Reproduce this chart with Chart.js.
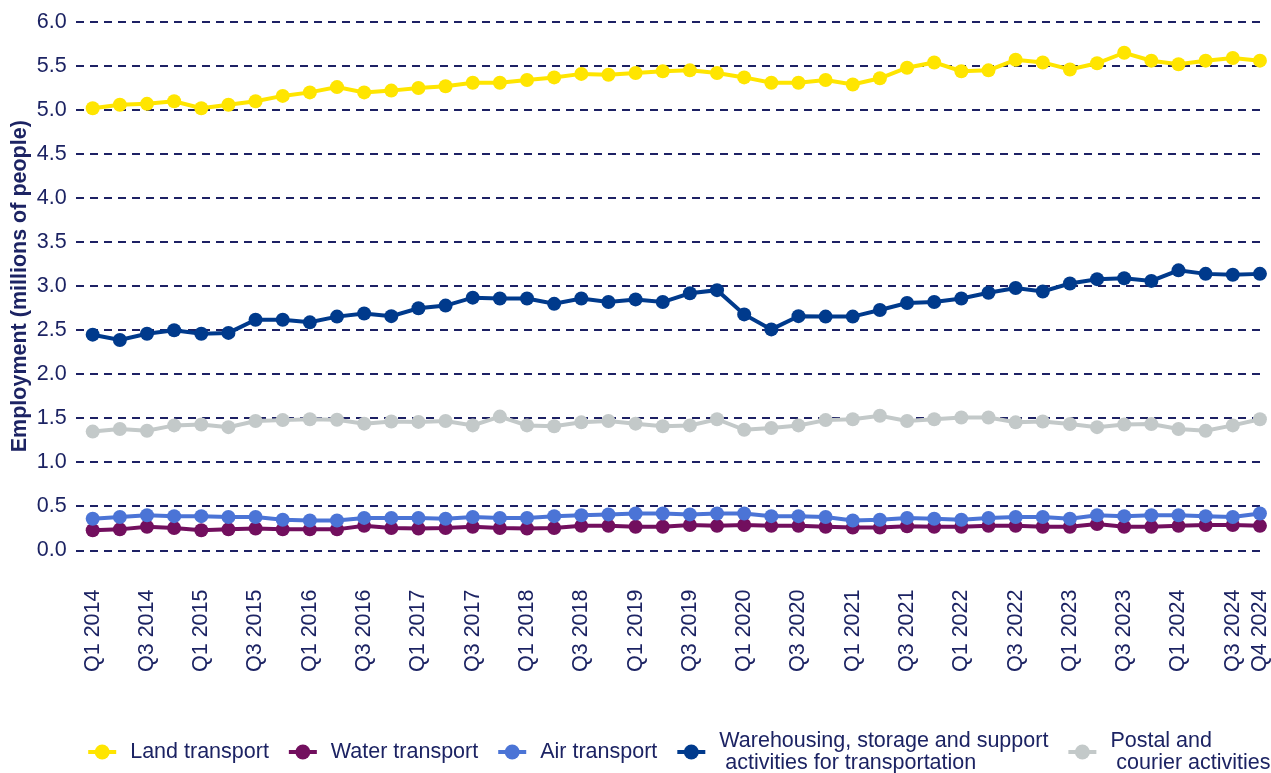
<!DOCTYPE html>
<html>
<head>
<meta charset="utf-8">
<script src="https://cdn.jsdelivr.net/npm/chart.js@4.4.1/dist/chart.umd.min.js"></script>
<style>
  html, body { margin: 0; padding: 0; background: #ffffff; }
  #wrap { width: 1271px; height: 773px; position: relative; }
</style>
</head>
<body>
<div id="wrap"><canvas id="chart" width="1271" height="773"></canvas></div>
<script>
const quarters = [
  'Q1 2014','Q2 2014','Q3 2014','Q4 2014',
  'Q1 2015','Q2 2015','Q3 2015','Q4 2015',
  'Q1 2016','Q2 2016','Q3 2016','Q4 2016',
  'Q1 2017','Q2 2017','Q3 2017','Q4 2017',
  'Q1 2018','Q2 2018','Q3 2018','Q4 2018',
  'Q1 2019','Q2 2019','Q3 2019','Q4 2019',
  'Q1 2020','Q2 2020','Q3 2020','Q4 2020',
  'Q1 2021','Q2 2021','Q3 2021','Q4 2021',
  'Q1 2022','Q2 2022','Q3 2022','Q4 2022',
  'Q1 2023','Q2 2023','Q3 2023','Q4 2023',
  'Q1 2024','Q2 2024','Q3 2024','Q4 2024'
];

const landTransport = [
  5.02, 5.06, 5.07, 5.10, 5.02, 5.06, 5.10, 5.16, 5.20, 5.26, 5.20,
  5.22, 5.25, 5.27, 5.31, 5.31, 5.34, 5.37, 5.41, 5.40, 5.42, 5.44,
  5.45, 5.42, 5.37, 5.31, 5.31, 5.34, 5.29, 5.36, 5.48, 5.54, 5.44,
  5.45, 5.57, 5.54, 5.46, 5.53, 5.65, 5.56, 5.52, 5.56, 5.59, 5.56
];
const waterTransport = [
  0.23, 0.24, 0.27, 0.255, 0.23, 0.24, 0.25, 0.24, 0.24, 0.24, 0.28,
  0.255, 0.25, 0.255, 0.27, 0.255, 0.25, 0.255, 0.28, 0.28, 0.27, 0.27,
  0.29, 0.28, 0.29, 0.28, 0.28, 0.27, 0.26, 0.26, 0.275, 0.27, 0.27,
  0.28, 0.28, 0.27, 0.27, 0.30, 0.27, 0.27, 0.28, 0.29, 0.29, 0.28
];
const airTransport = [
  0.36, 0.38, 0.40, 0.39, 0.39, 0.38, 0.38, 0.35, 0.34, 0.34, 0.37,
  0.37, 0.37, 0.36, 0.38, 0.37, 0.37, 0.39, 0.40, 0.41, 0.42, 0.42,
  0.41, 0.42, 0.42, 0.39, 0.39, 0.38, 0.34, 0.35, 0.37, 0.36, 0.35,
  0.37, 0.38, 0.38, 0.36, 0.40, 0.39, 0.40, 0.40, 0.39, 0.38, 0.42
];
const warehousing = [
  2.45, 2.39, 2.46, 2.50, 2.46, 2.47, 2.62, 2.62, 2.59, 2.655, 2.69,
  2.66, 2.75, 2.78, 2.87, 2.86, 2.86, 2.80, 2.86, 2.82, 2.85, 2.82,
  2.92, 2.955, 2.68, 2.51, 2.66, 2.655, 2.655, 2.73, 2.81, 2.82, 2.86,
  2.925, 2.98, 2.94, 3.03, 3.08, 3.09, 3.06, 3.18, 3.14, 3.13, 3.14
];
const postalCourier = [
  1.35, 1.38, 1.36, 1.42, 1.43, 1.40, 1.47, 1.48, 1.49, 1.485, 1.44,
  1.465, 1.46, 1.47, 1.42, 1.52, 1.42, 1.41, 1.455, 1.47, 1.44, 1.41,
  1.42, 1.49, 1.37, 1.39, 1.42, 1.48, 1.49, 1.53, 1.47, 1.49, 1.51,
  1.51, 1.455, 1.465, 1.435, 1.40, 1.43, 1.435, 1.38, 1.36, 1.42, 1.49
];

const seriesNames = [
  'Land transport',
  'Water transport',
  'Air transport',
  'Warehousing, storage and support\n activities for transportation',
  'Postal and\n courier activities'
];
const yTicks = [0, 0.5, 1, 1.5, 2, 2.5, 3, 3.5, 4, 4.5, 5, 5.5, 6];
const yTitle = 'Employment (millions of people)';

const TEXT = '#1c2363';
const FONT = '"Liberation Sans", Arial, Helvetica, sans-serif';

function toPoints(arr) { return arr.map((v, i) => ({ x: i, y: v })); }

function ds(label, values, color, order) {
  return {
    label: label,
    data: toPoints(values),
    borderColor: color,
    backgroundColor: color,
    pointBackgroundColor: color,
    pointBorderColor: color,
    pointBorderWidth: 0,
    pointRadius: 7,
    pointHoverRadius: 7,
    borderWidth: 4,
    tension: 0,
    clip: false,
    order: order
  };
}

const bottomLegend = {
  id: 'bottomLegend',
  afterDraw(chart) {
    const ctx = chart.ctx;
    const items = chart.data.datasets.map(d => ({ lines: d.label.split('\n'), color: d.borderColor }));
    ctx.save();
    ctx.font = '21.5px ' + FONT;
    const markerW = 28, gapAfter = 14, gapBetween = 20, lh = 22;
    const widths = items.map(it => Math.max(...it.lines.map(l => ctx.measureText(l).width)));
    const total = widths.reduce((a, b) => a + b, 0) + items.length * (markerW + gapAfter) + (items.length - 1) * gapBetween;
    const ca = chart.chartArea;
    let x = (ca.left + ca.right) / 2 - total / 2 + 9.5;
    const cy = chart.height - 21;
    items.forEach((it, i) => {
      ctx.strokeStyle = it.color;
      ctx.lineWidth = 4;
      ctx.beginPath();
      ctx.moveTo(x, cy);
      ctx.lineTo(x + markerW, cy);
      ctx.stroke();
      ctx.fillStyle = it.color;
      ctx.beginPath();
      ctx.arc(x + markerW / 2, cy, 7.5, 0, Math.PI * 2);
      ctx.fill();
      const tx = x + markerW + gapAfter;
      ctx.fillStyle = TEXT;
      ctx.textBaseline = 'middle';
      ctx.textAlign = 'left';
      const n = it.lines.length;
      it.lines.forEach((l, j) => ctx.fillText(l, tx, cy + (j - (n - 1) / 2) * lh));
      x = tx + widths[i] + gapBetween;
    });
    ctx.restore();
  }
};

new Chart(document.getElementById('chart'), {
  type: 'line',
  data: {
    datasets: [
      ds(seriesNames[0], landTransport, '#ffe500', 5),
      ds(seriesNames[1], waterTransport, '#720f5e', 4),
      ds(seriesNames[2], airTransport, '#4b74d6', 3),
      ds(seriesNames[3], warehousing, '#003a8c', 2),
      ds(seriesNames[4], postalCourier, '#c3c9c9', 1)
    ]
  },
  options: {
    responsive: false,
    animation: false,
    layout: { padding: { top: 21, left: 3, right: 0, bottom: 70 } },
    plugins: {
      legend: { display: false },
      tooltip: { enabled: false }
    },
    scales: {
      x: {
        type: 'linear',
        min: -0.627,
        max: 43.15,
        grid: { display: false },
        border: { display: false },
        afterBuildTicks(scale) {
          scale.ticks = quarters.map((q, i) => ({ value: i }));
        },
        afterFit(scale) {
          scale.paddingLeft = 0;
          scale.paddingRight = 0;
        },
        ticks: {
          autoSkip: false,
          maxRotation: 90,
          minRotation: 90,
          padding: 31,
          color: TEXT,
          font: { family: FONT, size: 21.5 },
          callback: (v) => {
            const i = Math.round(v);
            return (i % 2 === 0 || i === quarters.length - 1) ? quarters[i] : '';
          }
        }
      },
      y: {
        min: 0,
        max: 6,
        afterBuildTicks(scale) {
          scale.ticks = yTicks.map(v => ({ value: v }));
        },
        border: { display: false, dash: [8, 6] },
        grid: {
          color: '#1d2164',
          lineWidth: 2,
          drawTicks: false,
          tickLength: 0
        },
        ticks: {
          padding: 9,
          color: TEXT,
          font: { family: FONT, size: 21.5 },
          callback: (v) => Number(v).toFixed(1)
        },
        title: {
          display: true,
          text: yTitle,
          color: TEXT,
          font: { family: FONT, size: 21.5, weight: 'bold' },
          padding: { top: 4, bottom: -5 }
        }
      }
    }
  },
  plugins: [bottomLegend]
});
</script>
</body>
</html>
